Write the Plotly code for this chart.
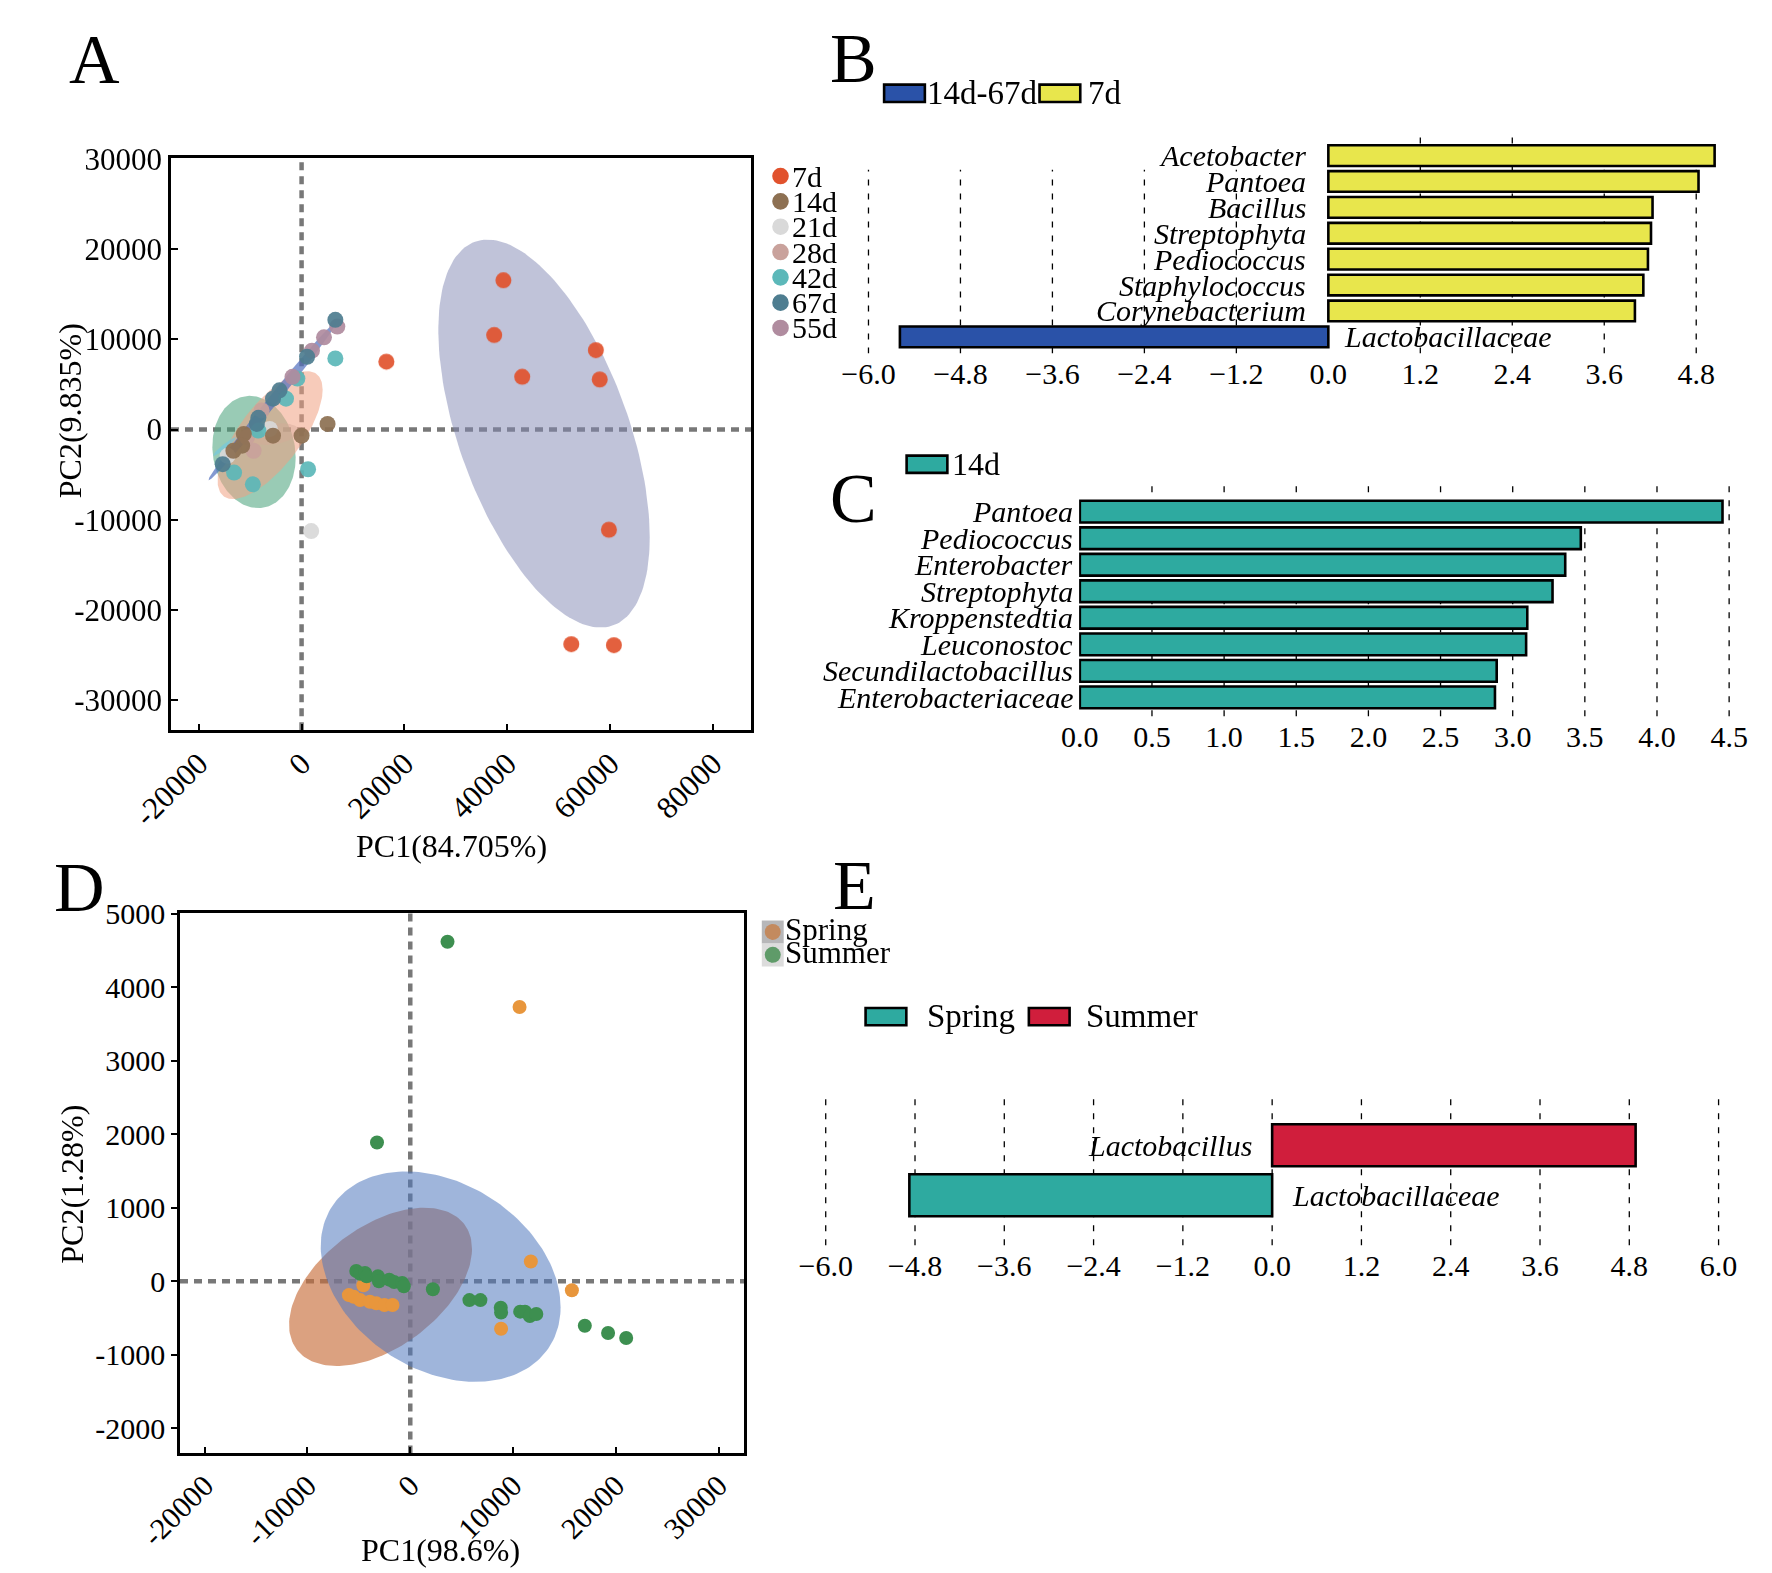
import numpy as np
import plotly.graph_objects as go

W, H = 1772, 1573
OFF = 8  # the page body margin shifts the figure; layout pixels below are page pixels
FONT = "Liberation Serif, Times New Roman, serif"

# ---------------- panel A : PCA, fermentation days ----------------
a_groups = ["7d", "14d", "21d", "28d", "42d", "67d", "55d"]
a_colors = ["#e1522d", "#8d7052", "#d9d9d9", "#c9a29c", "#5cb8b9", "#4e7d90", "#b08c9f"]

a_x_7d = [39250, 37460, 42910, 57240, 57990, 59780, 52460, 60750, 16490]
a_y_7d = [16530, 10470, 5840, 8800, 5550, -11090, -23760, -23870, 7520]
a_x_14d = [-11240, -5560, 0, 5050, -11550, -13260]
a_y_14d = [-480, -670, -670, 630, -1780, -2340]
a_x_21d = [-14390, -6190, 1870]
a_y_21d = [-2900, 70, -11240]
a_x_28d = [-7770, -9340, -10610]
a_y_28d = [2120, -2340, -860]
a_x_42d = [6570, -820, -3030, -8400, -13130, -9470, 1260]
a_y_42d = [7880, 5650, 3420, -110, -4760, -6060, -4390]
a_x_67d = [6570, 1070, -4290, -5560, -8400, -8710, -15340]
a_y_67d = [12160, 8070, 4350, 3420, 1300, 630, -3830]
a_x_55d = [6950, 4360, 2020, -1770]
a_y_55d = [11410, 10220, 8740, 5840]

# confidence ellipses: centre, half width (x), half height (y), correlation
a_ell_cx = [47160, -9250, -5500, -6120, -15000, -5630]
a_ell_cy = [-440, -2480, -500, -620, -1880, 3195]
a_ell_w = [20560, 8100, 5000, 10220, 2200, 12500]
a_ell_h = [21480, 6220, 1200, 7080, 1020, 8815]
a_ell_r = [-0.534, -0.1, 0.3, 0.71, 0.95, 0.995]
a_ell_fill = ["rgba(130,135,180,0.5)", "rgba(70,160,120,0.55)", "rgba(180,180,180,0.45)",
              "rgba(240,160,130,0.55)", "rgba(110,200,230,0.6)", "rgba(80,110,190,0.7)"]

a_xticks = [-20000, 0, 20000, 40000, 60000, 80000]
a_yticks = [-30000, -20000, -10000, 0, 10000, 20000, 30000]

# ---------------- panel D : PCA, seasons ----------------
d_x_spring = [-5975, -5503, -4874, -4560, -3931, -3302, -2516, -1730, 11730, 15723, 8836, 10632]
d_y_spring = [-188, -211, -256, -54, -278, -300, -323, -323, 269, -121, -646, 3730]
d_x_summer = [-5252, -4874, -4403, -4245, -3145, -3050, -2044, -1572, -786, -629, 2201, 5755,
              6824, 8805, 8836, 10692, 11164, 11635, 12264, 16981, 19245, 21006, 3623, -3236]
d_y_summer = [139, 103, 112, 67, 67, 0, 22, -9, -22, -67, -108, -256,
              -256, -359, -426, -413, -413, -471, -444, -605, -704, -771, 4616, 1887]
d_ell_cx = [-2893, 2956]
d_ell_cy = [-76, 63]
d_ell_w = [8900, 11667]
d_ell_h = [1076, 1430]
d_ell_r = [0.48, -0.29]
d_ell_fill = ["rgba(200,110,60,0.65)", "rgba(80,120,190,0.55)"]
d_xticks = [-20000, -10000, 0, 10000, 20000, 30000]
d_yticks = [-2000, -1000, 0, 1000, 2000, 3000, 4000, 5000]

# ---------------- panel B : LDA 7d vs 14d-67d ----------------
b_taxa = ["Lactobacillaceae", "Corynebacterium", "Staphylococcus", "Pediococcus",
          "Streptophyta", "Bacillus", "Pantoea", "Acetobacter"]
b_lda = [-5.59, 4.00, 4.11, 4.17, 4.21, 4.23, 4.83, 5.04]
b_class = ["14d-67d", "7d", "7d", "7d", "7d", "7d", "7d", "7d"]
b_ticks = [-6.0, -4.8, -3.6, -2.4, -1.2, 0.0, 1.2, 2.4, 3.6, 4.8]
b_tall_grid = [1.2, 2.4]

# ---------------- panel C : LDA 14d ----------------
c_taxa = ["Enterobacteriaceae", "Secundilactobacillus", "Leuconostoc", "Kroppenstedtia",
          "Streptophyta", "Enterobacter", "Pediococcus", "Pantoea"]
c_lda = [2.877, 2.889, 3.093, 3.101, 3.276, 3.364, 3.472, 4.454]
c_ticks = [0.0, 0.5, 1.0, 1.5, 2.0, 2.5, 3.0, 3.5, 4.0, 4.5]

# ---------------- panel E : LDA Spring vs Summer ----------------
e_taxa = ["Lactobacillaceae", "Lactobacillus"]
e_lda = [-4.876, 4.885]
e_class = ["Spring", "Summer"]
e_ticks = [-6.0, -4.8, -3.6, -2.4, -1.2, 0.0, 1.2, 2.4, 3.6, 4.8, 6.0]

class_colors = {"14d-67d": "#2a52a8", "7d": "#e8e64c", "14d": "#2eaaa0",
                "Spring": "#2eaaa0", "Summer": "#d01e3c"}


def px(x):
    return (x - OFF) / W


def py(y):
    return 1 - (y - OFF) / H


def dom_x(left, right):
    return [px(left), px(right)]


def dom_y(top, bottom):
    return [py(bottom), py(top)]


def ellipse(cx, cy, w, h, r, n=180):
    t = np.linspace(0, 2 * np.pi, n)
    return cx + w * np.cos(t), cy + h * (r * np.cos(t) + np.sqrt(1 - r * r) * np.sin(t))


def minus(v):
    return f"{v:.1f}".replace("-", "\u2212")


fig = go.Figure()

# panel A ellipses and points
for cx, cy, w, h, r, fc in zip(a_ell_cx, a_ell_cy, a_ell_w, a_ell_h, a_ell_r, a_ell_fill):
    ex, ey = ellipse(cx, cy, w, h, r)
    fig.add_trace(go.Scatter(x=ex, y=ey, mode="lines", fill="toself", fillcolor=fc,
                             line=dict(width=0), hoverinfo="skip", xaxis="x", yaxis="y"))

a_points = {"7d": (a_x_7d, a_y_7d), "14d": (a_x_14d, a_y_14d), "21d": (a_x_21d, a_y_21d),
            "28d": (a_x_28d, a_y_28d), "42d": (a_x_42d, a_y_42d), "67d": (a_x_67d, a_y_67d),
            "55d": (a_x_55d, a_y_55d)}
for g in ["21d", "28d", "42d", "55d", "67d", "14d", "7d"]:
    gx, gy = a_points[g]
    fig.add_trace(go.Scatter(x=gx, y=gy, mode="markers", name=g, opacity=0.92,
                             marker=dict(size=16, color=a_colors[a_groups.index(g)]),
                             xaxis="x", yaxis="y"))

# panel D ellipses and points
for cx, cy, w, h, r, fc in zip(d_ell_cx, d_ell_cy, d_ell_w, d_ell_h, d_ell_r, d_ell_fill):
    ex, ey = ellipse(cx, cy, w, h, r)
    fig.add_trace(go.Scatter(x=ex, y=ey, mode="lines", fill="toself", fillcolor=fc,
                             line=dict(width=0), hoverinfo="skip", xaxis="x2", yaxis="y2"))
fig.add_trace(go.Scatter(x=d_x_spring, y=d_y_spring, mode="markers", name="Spring",
                         marker=dict(size=14, color="#e8963c"), xaxis="x2", yaxis="y2"))
fig.add_trace(go.Scatter(x=d_x_summer, y=d_y_summer, mode="markers", name="Summer",
                         marker=dict(size=14, color="#3d8f50"), xaxis="x2", yaxis="y2"))

# panel B bars
for cls in ["14d-67d", "7d"]:
    idx = [i for i, c in enumerate(b_class) if c == cls]
    fig.add_trace(go.Bar(x=[b_lda[i] for i in idx], y=[b_taxa[i] for i in idx], orientation="h",
                         width=0.8, marker=dict(color=class_colors[cls], line=dict(color="black", width=2.6)),
                         xaxis="x3", yaxis="y3"))

# panel C bars
fig.add_trace(go.Bar(x=c_lda, y=c_taxa, orientation="h", width=0.82,
                     marker=dict(color=class_colors["14d"], line=dict(color="black", width=2.6)),
                     xaxis="x4", yaxis="y4"))

# panel E bars
for cls in ["Spring", "Summer"]:
    idx = [i for i, c in enumerate(e_class) if c == cls]
    fig.add_trace(go.Bar(x=[e_lda[i] for i in idx], y=[e_taxa[i] for i in idx], orientation="h",
                         width=0.84, marker=dict(color=class_colors[cls], line=dict(color="black", width=2.6)),
                         xaxis="x5", yaxis="y5"))

shapes = []
annotations = []

# dashed zero lines in PCA panels
for xr, yr in [("x", "y"), ("x2", "y2")]:
    dash = dict(color="rgb(120,120,120)", width=4.5, dash="8px,6px")
    shapes.append(dict(type="line", xref=xr, yref=yr + " domain", x0=0, x1=0, y0=0, y1=1,
                       line=dash, layer="below"))
    shapes.append(dict(type="line", xref=xr + " domain", yref=yr, x0=0, x1=1, y0=0, y1=0,
                       line=dash, layer="below"))

# LDA gridlines
grid = dict(color="black", width=1.3, dash="6px,8px")
b_bottom, b_top = -0.64, 7.955
for v in b_ticks:
    if v == 0:
        continue
    top = b_top if v in b_tall_grid else b_taxa.index("Pantoea") + 0.45
    shapes.append(dict(type="line", xref="x3", yref="y3", x0=v, x1=v, y0=b_bottom, y1=top,
                       line=grid, layer="below"))
for v in c_ticks:
    if v == 0:
        continue
    shapes.append(dict(type="line", xref="x4", yref="y4 domain", x0=v, x1=v, y0=0, y1=1,
                       line=grid, layer="below"))
for v in e_ticks:
    shapes.append(dict(type="line", xref="x5", yref="y5 domain", x0=v, x1=v, y0=0, y1=1,
                       line=grid, layer="below"))

# bar labels
lab_font = dict(family=FONT, size=30, color="black")
for t, v in zip(b_taxa, b_lda):
    annotations.append(dict(x=0, y=t, xref="x3", yref="y3", text=f"<i>{t}</i>", showarrow=False,
                            xanchor="right" if v > 0 else "left", xshift=-20 if v > 0 else 14,
                            font=lab_font))
for t in c_taxa:
    annotations.append(dict(x=0, y=t, xref="x4", yref="y4", text=f"<i>{t}</i>", showarrow=False,
                            xanchor="right", xshift=-5, font=lab_font))
for t, v in zip(e_taxa, e_lda):
    annotations.append(dict(x=0, y=t, xref="x5", yref="y5", text=f"<i>{t}</i>", showarrow=False,
                            xanchor="right" if v > 0 else "left", xshift=-18 if v > 0 else 18,
                            font=lab_font))

# bar legends (key rectangles + text)
bar_keys = [("14d-67d", 866.8, 68.3, 909, 33), ("7d", 1027, 68.3, 1075, 33),
            ("14d", 890, 443.3, 935, 32),
            ("Spring", 847.7, 1001.7, 909, 33), ("Summer", 1016, 1001.7, 1073, 33)]
for name, kx, ky, tx, fs in bar_keys:
    shapes.append(dict(type="rect", xref="paper", yref="paper", x0=px(kx), x1=px(kx + 42),
                       y0=py(ky + 17.5), y1=py(ky), fillcolor=class_colors[name],
                       line=dict(color="black", width=2.6)))
    annotations.append(dict(x=px(tx), y=py(ky + 8.5), xref="paper", yref="paper", text=name,
                            showarrow=False, xanchor="left", yanchor="middle",
                            font=dict(family=FONT, size=fs, color="black")))

# panel A legend
for k, g in enumerate(a_groups):
    cy = 160.7 + 25.6 * k
    shapes.append(dict(type="circle", xref="paper", yref="paper", xsizemode="pixel", ysizemode="pixel",
                       xanchor=px(760), yanchor=py(cy), x0=-8.3, x1=8.3, y0=-8.3, y1=8.3,
                       fillcolor=a_colors[k], line=dict(width=0)))
    annotations.append(dict(x=px(770), y=py(cy), xref="paper", yref="paper", text=g, showarrow=False,
                            xanchor="left", yanchor="middle", font=dict(family=FONT, size=30, color="black")))

# panel D legend
d_keys = [("Spring", "#b7b7b9", "rgb(195,138,95)", 913.3), ("Summer", "#dcdcdc", "rgb(95,155,105)", 936.5)]
for name, bg, dot, ky in d_keys:
    shapes.append(dict(type="rect", xref="paper", yref="paper", x0=px(740.7), x1=px(763.3),
                       y0=py(ky + 23.3), y1=py(ky), fillcolor=bg, line=dict(width=0)))
    shapes.append(dict(type="circle", xref="paper", yref="paper", xsizemode="pixel", ysizemode="pixel",
                       xanchor=px(752), yanchor=py(ky + 11.5), x0=-8, x1=8, y0=-8, y1=8,
                       fillcolor=dot, line=dict(width=0)))
    annotations.append(dict(x=px(763), y=py(ky + 9), xref="paper", yref="paper", text=name, showarrow=False,
                            xanchor="left", yanchor="middle", font=dict(family=FONT, size=31, color="black")))

# panel letters
for letter, lx, ly in [("A", 53, 43), ("B", 835, 42), ("C", 835, 487), ("D", 37, 880), ("E", 836, 878)]:
    annotations.append(dict(x=px(lx), y=py(ly), xref="paper", yref="paper", text=letter, showarrow=False,
                            xanchor="center", yanchor="middle", font=dict(family=FONT, size=70, color="black")))

# PCA axis titles
title_font = dict(family=FONT, size=32, color="black")
for text, tx, ty, ang in [("PC1(84.705%)", 421, 838, 0), ("PC2(9.835%)", 27, 398, -90),
                          ("PC1(98.6%)", 410, 1550, 0), ("PC2(1.28%)", 30, 1180, -90)]:
    annotations.append(dict(x=px(tx), y=py(ty), xref="paper", yref="paper", text=text, showarrow=False,
                            textangle=ang, xanchor="center", yanchor="middle", font=title_font))

box = dict(showline=True, mirror=True, linecolor="black", linewidth=2.5, showgrid=False,
           zeroline=False, tickcolor="black", tickwidth=2)
bar_x = dict(showline=False, showgrid=False, zeroline=False, ticks="",
             tickfont=dict(family=FONT, size=30, color="black"))
bar_y = dict(type="category", visible=False, showgrid=False, zeroline=False)

fig.update_layout(
    width=W, height=H, autosize=False, margin=dict(l=0, r=0, t=0, b=0),
    paper_bgcolor="white", plot_bgcolor="white", showlegend=False, barmode="overlay",
    font=dict(family=FONT, color="black"),
    xaxis=dict(box, domain=dom_x(131.7, 730), range=[-25400, 87500], anchor="y",
               tickvals=a_xticks, ticktext=[str(v) for v in a_xticks], tickangle=-45,
               ticks="inside", ticklen=7, tickfont=dict(family=FONT, size=31)),
    yaxis=dict(box, domain=dom_y(142.7, 721), range=[-33300, 30050], anchor="x",
               tickvals=a_yticks, ticktext=[str(v) for v in a_yticks],
               ticks="inside", ticklen=7, tickfont=dict(family=FONT, size=31)),
    xaxis2=dict(box, domain=dom_x(141, 722.7), range=[-22400, 32500], anchor="y2",
                tickvals=d_xticks, ticktext=[str(v) for v in d_xticks], tickangle=-45,
                ticks="inside", ticklen=7, tickfont=dict(family=FONT, size=30)),
    yaxis2=dict(box, domain=dom_y(905.5, 1452), range=[-2340, 5010], anchor="x2",
                tickvals=d_yticks, ticktext=[str(v) for v in d_yticks],
                ticks="outside", ticklen=6, tickfont=dict(family=FONT, size=30)),
    xaxis3=dict(bar_x, domain=dom_x(841.2, 1731.6), range=[-6.12, 5.15], anchor="y3",
                tickvals=b_ticks, ticktext=[minus(v) for v in b_ticks]),
    yaxis3=dict(bar_y, domain=dom_y(115, 340), range=[b_bottom, b_top], anchor="x3",
                categoryorder="array", categoryarray=b_taxa),
    xaxis4=dict(bar_x, domain=dom_x(1067.8, 1746.8), range=[-0.005, 4.56], anchor="y4",
                tickvals=c_ticks, ticktext=[f"{v:.1f}" for v in c_ticks]),
    yaxis4=dict(bar_y, domain=dom_y(470, 706.7), range=[-0.709, 8.119], anchor="x4",
                categoryorder="array", categoryarray=c_taxa),
    xaxis5=dict(bar_x, domain=dom_x(795.1, 1738.5), range=[-6.15, 6.15], anchor="y5",
                tickvals=e_ticks, ticktext=[minus(v) for v in e_ticks]),
    yaxis5=dict(bar_y, domain=dom_y(1090, 1241.7), range=[-1.004, 2.0], anchor="x5",
                categoryorder="array", categoryarray=e_taxa),
    shapes=shapes,
    annotations=annotations,
)

fig.write_html("out.html")
